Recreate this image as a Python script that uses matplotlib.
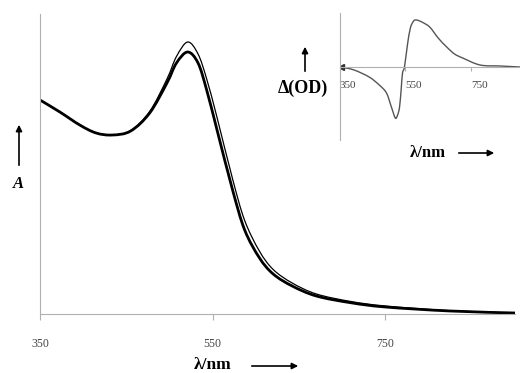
import matplotlib.pyplot as plt
from matplotlib.path import Path
from matplotlib.patches import PathPatch

# main spectra (nm, absorbance a.u.)
wl_thick = [350, 373, 396, 415, 434, 455, 477, 497, 508, 521, 533, 543, 555, 573, 587,
            604, 620, 642, 670, 710, 750, 825, 900]
a_thick = [0.856, 0.808, 0.756, 0.724, 0.716, 0.732, 0.804, 0.924, 1.004, 1.048, 1.004,
           0.896, 0.736, 0.496, 0.336, 0.225, 0.160, 0.112, 0.072, 0.045, 0.028, 0.012, 0.004]
wl_thin = [350, 373, 396, 415, 434, 455, 477, 497, 508, 521, 533, 543, 555, 573, 587,
           604, 620, 642, 670, 710, 750, 825, 900]
a_thin = [0.856, 0.808, 0.756, 0.724, 0.716, 0.734, 0.810, 0.940, 1.030, 1.088, 1.040,
          0.940, 0.786, 0.540, 0.374, 0.252, 0.178, 0.124, 0.080, 0.050, 0.032, 0.013, 0.004]

# inset difference spectrum
wl_diff = [353, 393, 439, 470, 492, 507, 519, 526, 532, 537, 541, 547, 556, 565, 575, 584,
           600, 624, 650, 676, 700, 725, 778, 840, 900]
d_od = [0.0, -0.03, -0.10, -0.18, -0.26, -0.40, -0.51, -0.48, -0.40, -0.22, -0.06, 0.0, 0.22,
        0.39, 0.46, 0.47, 0.45, 0.40, 0.29, 0.20, 0.13, 0.09, 0.02, 0.01, 0.0]

ticks = [350, 550, 750]
tick_labels = ['350', '550', '750']

serif = ['Liberation Serif', 'DejaVu Serif']
gray = '#b0b0b0'


def smooth_line(ax, x, y, **kw):
    # catmull-rom curve through the points, drawn as bezier path
    verts = [(x[0], y[0])]
    codes = [Path.MOVETO]
    n = len(x)
    for i in range(n - 1):
        x0, y0 = (x[i - 1], y[i - 1]) if i > 0 else (x[i], y[i])
        x3, y3 = (x[i + 2], y[i + 2]) if i + 2 < n else (x[i + 1], y[i + 1])
        c1 = (x[i] + (x[i + 1] - x0) / 6, y[i] + (y[i + 1] - y0) / 6)
        c2 = (x[i + 1] - (x3 - x[i]) / 6, y[i + 1] - (y3 - y[i]) / 6)
        verts += [c1, c2, (x[i + 1], y[i + 1])]
        codes += [Path.CURVE4] * 3
    ax.add_patch(PathPatch(Path(verts, codes), fill=False, capstyle='round', **kw))


fig = plt.figure(figsize=(5.2, 3.73), dpi=100)

ax = fig.add_axes([40/520, 59/373, 475/520, 300/373])
smooth_line(ax, wl_thin, a_thin, edgecolor='black', lw=0.9)
smooth_line(ax, wl_thick, a_thick, edgecolor='black', lw=2.0)
ax.set_xlim(350, 900)
ax.set_ylim(0, 1.2)
for s in ['top', 'right']:
    ax.spines[s].set_visible(False)
for s in ['left', 'bottom']:
    ax.spines[s].set_color(gray)
    ax.spines[s].set_linewidth(0.8)
ax.set_yticks([])
ax.set_xticks(ticks)
ax.set_xticklabels(tick_labels, family=serif, fontsize=8.5, color='#444444')
ax.tick_params(axis='x', length=4, color=gray, pad=13)

# inset
ins = fig.add_axes([340/520, 233/373, 180/520, 127/373])
ins.patch.set_alpha(0)
smooth_line(ins, wl_diff, d_od, edgecolor='#555555', lw=1.0)
ins.plot(wl_diff[0], d_od[0], marker='<', color='#333333', markersize=4)
ins.set_xlim(350, 900)
ins.set_ylim(-0.73, 0.54)
for s in ['top', 'right']:
    ins.spines[s].set_visible(False)
ins.spines['bottom'].set_position(('data', 0))
for s in ['left', 'bottom']:
    ins.spines[s].set_color(gray)
    ins.spines[s].set_linewidth(0.8)
ins.set_yticks([])
ins.set_xticks(ticks)
ins.set_xticklabels(tick_labels, family=serif, fontsize=8, color='#444444', ha='left')
ins.tick_params(axis='x', length=3, color=gray, pad=7)

# axis labels with arrows
fig.text(18/520, 1 - 184/373, 'A', family=serif, fontsize=12, fontweight='bold',
         fontstyle='italic', ha='center', va='center')
ax.annotate('', xy=(19/520, 1 - 122/373), xytext=(19/520, 1 - 168/373),
            xycoords='figure fraction',
            arrowprops=dict(arrowstyle='-|>', color='black', lw=1.2, mutation_scale=9))

fig.text(213/520, 1 - 365/373, '\u03bb/nm', family=serif, fontsize=12.5, fontweight='bold',
         ha='center', va='center')
ax.annotate('', xy=(301/520, 1 - 366/373), xytext=(249/520, 1 - 366/373),
            xycoords='figure fraction',
            arrowprops=dict(arrowstyle='-|>', color='black', lw=1.2, mutation_scale=9))

fig.text(303/520, 1 - 88/373, '\u0394(OD)', family=serif, fontsize=13, fontweight='bold',
         ha='center', va='center')
ax.annotate('', xy=(305/520, 1 - 44/373), xytext=(305/520, 1 - 74/373),
            xycoords='figure fraction',
            arrowprops=dict(arrowstyle='-|>', color='black', lw=1.2, mutation_scale=9))

fig.text(428/520, 1 - 153/373, '\u03bb/nm', family=serif, fontsize=12, fontweight='bold',
         ha='center', va='center')
ax.annotate('', xy=(497/520, 1 - 153/373), xytext=(456/520, 1 - 153/373),
            xycoords='figure fraction',
            arrowprops=dict(arrowstyle='-|>', color='black', lw=1.2, mutation_scale=9))

fig.savefig('out.png', dpi=100)
